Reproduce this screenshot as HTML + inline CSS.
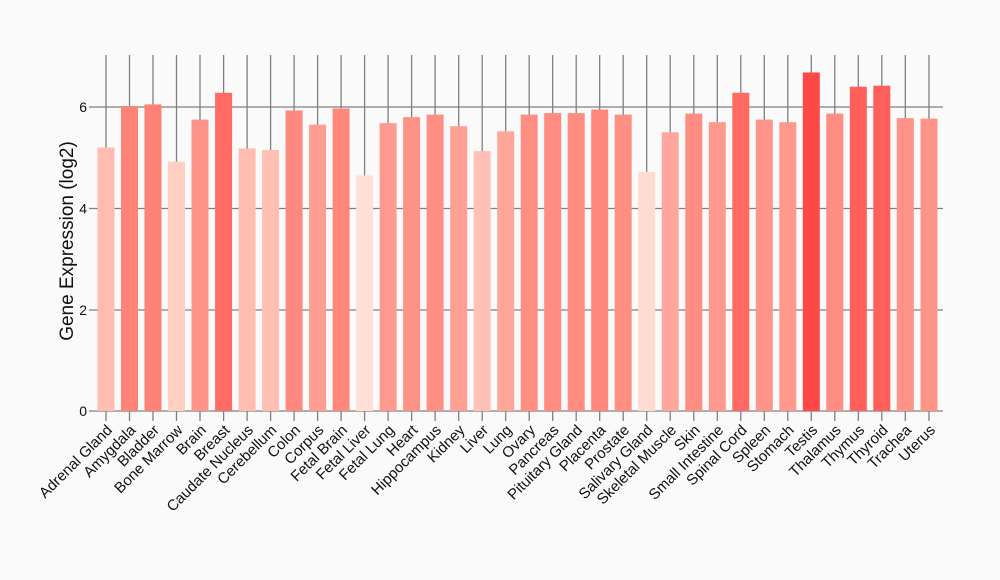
<!DOCTYPE html>
<html><head><meta charset="utf-8"><style>html,body{margin:0;padding:0;background:#fafafa}svg{display:block}</style></head><body>
<svg width="1000" height="580" viewBox="0 0 1000 580" xmlns="http://www.w3.org/2000/svg" font-family="Liberation Sans, Arial, sans-serif">
<rect width="1000" height="580" fill="#fafafa"/>
<g stroke="#808080" stroke-width="1.3">
<line x1="89" y1="411" x2="943" y2="411"/><line x1="89" y1="310" x2="943" y2="310"/><line x1="89" y1="208.5" x2="943" y2="208.5"/><line x1="89" y1="107" x2="943" y2="107"/>
<line x1="106" y1="55" x2="106" y2="421"/><line x1="129.5" y1="55" x2="129.5" y2="421"/><line x1="153" y1="55" x2="153" y2="421"/><line x1="176.5" y1="55" x2="176.5" y2="421"/><line x1="200" y1="55" x2="200" y2="421"/><line x1="223.6" y1="55" x2="223.6" y2="421"/><line x1="247.1" y1="55" x2="247.1" y2="421"/><line x1="270.6" y1="55" x2="270.6" y2="421"/><line x1="294.1" y1="55" x2="294.1" y2="421"/><line x1="317.6" y1="55" x2="317.6" y2="421"/><line x1="341.1" y1="55" x2="341.1" y2="421"/><line x1="364.6" y1="55" x2="364.6" y2="421"/><line x1="388.1" y1="55" x2="388.1" y2="421"/><line x1="411.6" y1="55" x2="411.6" y2="421"/><line x1="435.1" y1="55" x2="435.1" y2="421"/><line x1="458.7" y1="55" x2="458.7" y2="421"/><line x1="482.2" y1="55" x2="482.2" y2="421"/><line x1="505.7" y1="55" x2="505.7" y2="421"/><line x1="529.2" y1="55" x2="529.2" y2="421"/><line x1="552.7" y1="55" x2="552.7" y2="421"/><line x1="576.2" y1="55" x2="576.2" y2="421"/><line x1="599.7" y1="55" x2="599.7" y2="421"/><line x1="623.2" y1="55" x2="623.2" y2="421"/><line x1="646.7" y1="55" x2="646.7" y2="421"/><line x1="670.2" y1="55" x2="670.2" y2="421"/><line x1="693.8" y1="55" x2="693.8" y2="421"/><line x1="717.3" y1="55" x2="717.3" y2="421"/><line x1="740.8" y1="55" x2="740.8" y2="421"/><line x1="764.3" y1="55" x2="764.3" y2="421"/><line x1="787.8" y1="55" x2="787.8" y2="421"/><line x1="811.3" y1="55" x2="811.3" y2="421"/><line x1="834.8" y1="55" x2="834.8" y2="421"/><line x1="858.3" y1="55" x2="858.3" y2="421"/><line x1="881.8" y1="55" x2="881.8" y2="421"/><line x1="905.3" y1="55" x2="905.3" y2="421"/><line x1="929" y1="55" x2="929" y2="421"/>
</g>
<g>
<rect x="97.5" y="147.5" width="17" height="263.5" fill="rgb(255,188,176)"/>
<rect x="121" y="106" width="17" height="305" fill="rgb(255,132,120)"/>
<rect x="144.5" y="104.4" width="17" height="306.6" fill="rgb(255,130,118)"/>
<rect x="168" y="161.7" width="17" height="249.3" fill="rgb(255,207,194)"/>
<rect x="191.5" y="119.6" width="17" height="291.4" fill="rgb(255,149,138)"/>
<rect x="215.1" y="92.8" width="17" height="318.2" fill="rgb(255,107,98)"/>
<rect x="238.6" y="148.5" width="17" height="262.5" fill="rgb(255,189,177)"/>
<rect x="262.1" y="150" width="17" height="261" fill="rgb(255,191,179)"/>
<rect x="285.6" y="110.5" width="17" height="300.5" fill="rgb(255,137,126)"/>
<rect x="309.1" y="124.7" width="17" height="286.3" fill="rgb(255,157,146)"/>
<rect x="332.6" y="108.5" width="17" height="302.5" fill="rgb(255,135,124)"/>
<rect x="356.1" y="175.4" width="17" height="235.6" fill="rgb(255,224,216)"/>
<rect x="379.6" y="123.2" width="17" height="287.8" fill="rgb(255,154,143)"/>
<rect x="403.1" y="117.1" width="17" height="293.9" fill="rgb(255,146,135)"/>
<rect x="426.6" y="114.6" width="17" height="296.4" fill="rgb(255,142,131)"/>
<rect x="450.2" y="126.2" width="17" height="284.8" fill="rgb(255,159,148)"/>
<rect x="473.7" y="151.1" width="17" height="259.9" fill="rgb(255,193,181)"/>
<rect x="497.2" y="131.3" width="17" height="279.7" fill="rgb(255,166,155)"/>
<rect x="520.7" y="114.6" width="17" height="296.4" fill="rgb(255,142,131)"/>
<rect x="544.2" y="113.1" width="17" height="297.9" fill="rgb(255,140,129)"/>
<rect x="567.7" y="113.1" width="17" height="297.9" fill="rgb(255,140,129)"/>
<rect x="591.2" y="109.5" width="17" height="301.5" fill="rgb(255,136,125)"/>
<rect x="614.7" y="114.6" width="17" height="296.4" fill="rgb(255,142,131)"/>
<rect x="638.2" y="171.8" width="17" height="239.2" fill="rgb(255,219,210)"/>
<rect x="661.7" y="132.3" width="17" height="278.7" fill="rgb(255,167,156)"/>
<rect x="685.3" y="113.6" width="17" height="297.4" fill="rgb(255,141,130)"/>
<rect x="708.8" y="122.2" width="17" height="288.8" fill="rgb(255,153,142)"/>
<rect x="732.3" y="92.8" width="17" height="318.2" fill="rgb(255,107,98)"/>
<rect x="755.8" y="119.6" width="17" height="291.4" fill="rgb(255,149,138)"/>
<rect x="779.3" y="122.2" width="17" height="288.8" fill="rgb(255,153,142)"/>
<rect x="802.8" y="72.5" width="17" height="338.5" fill="rgb(255,72,72)"/>
<rect x="826.3" y="113.6" width="17" height="297.4" fill="rgb(255,141,130)"/>
<rect x="849.8" y="86.7" width="17" height="324.3" fill="rgb(255,96,90)"/>
<rect x="873.3" y="85.7" width="17" height="325.3" fill="rgb(255,95,89)"/>
<rect x="896.8" y="118.1" width="17" height="292.9" fill="rgb(255,147,136)"/>
<rect x="920.5" y="118.6" width="17" height="292.4" fill="rgb(255,148,137)"/>
</g>
<g font-size="14" fill="#111" text-anchor="end">
<text x="87" y="416">0</text><text x="87" y="315">2</text><text x="87" y="213.5">4</text><text x="87" y="112">6</text>
</g>
<text transform="translate(73,241) rotate(-90)" font-size="19" text-anchor="middle" fill="#111">Gene Expression (log2)</text>
<g font-size="15" fill="#111" text-anchor="end">
<text transform="translate(113,431) rotate(-45)">Adrenal Gland</text>
<text transform="translate(136.5,431) rotate(-45)">Amygdala</text>
<text transform="translate(160,431) rotate(-45)">Bladder</text>
<text transform="translate(183.5,431) rotate(-45)">Bone Marrow</text>
<text transform="translate(207,431) rotate(-45)">Brain</text>
<text transform="translate(230.6,431) rotate(-45)">Breast</text>
<text transform="translate(254.1,431) rotate(-45)">Caudate Nucleus</text>
<text transform="translate(277.6,431) rotate(-45)">Cerebellum</text>
<text transform="translate(301.1,431) rotate(-45)">Colon</text>
<text transform="translate(324.6,431) rotate(-45)">Corpus</text>
<text transform="translate(348.1,431) rotate(-45)">Fetal Brain</text>
<text transform="translate(371.6,431) rotate(-45)">Fetal Liver</text>
<text transform="translate(395.1,431) rotate(-45)">Fetal Lung</text>
<text transform="translate(418.6,431) rotate(-45)">Heart</text>
<text transform="translate(442.1,431) rotate(-45)">Hippocampus</text>
<text transform="translate(465.7,431) rotate(-45)">Kidney</text>
<text transform="translate(489.2,431) rotate(-45)">Liver</text>
<text transform="translate(512.7,431) rotate(-45)">Lung</text>
<text transform="translate(536.2,431) rotate(-45)">Ovary</text>
<text transform="translate(559.7,431) rotate(-45)">Pancreas</text>
<text transform="translate(583.2,431) rotate(-45)">Pituitary Gland</text>
<text transform="translate(606.7,431) rotate(-45)">Placenta</text>
<text transform="translate(630.2,431) rotate(-45)">Prostate</text>
<text transform="translate(653.7,431) rotate(-45)">Salivary Gland</text>
<text transform="translate(677.2,431) rotate(-45)">Skeletal Muscle</text>
<text transform="translate(700.8,431) rotate(-45)">Skin</text>
<text transform="translate(724.3,431) rotate(-45)">Small Intestine</text>
<text transform="translate(747.8,431) rotate(-45)">Spinal Cord</text>
<text transform="translate(771.3,431) rotate(-45)">Spleen</text>
<text transform="translate(794.8,431) rotate(-45)">Stomach</text>
<text transform="translate(818.3,431) rotate(-45)">Testis</text>
<text transform="translate(841.8,431) rotate(-45)">Thalamus</text>
<text transform="translate(865.3,431) rotate(-45)">Thymus</text>
<text transform="translate(888.8,431) rotate(-45)">Thyroid</text>
<text transform="translate(912.3,431) rotate(-45)">Trachea</text>
<text transform="translate(936,431) rotate(-45)">Uterus</text>
</g>
</svg>
</body></html>
